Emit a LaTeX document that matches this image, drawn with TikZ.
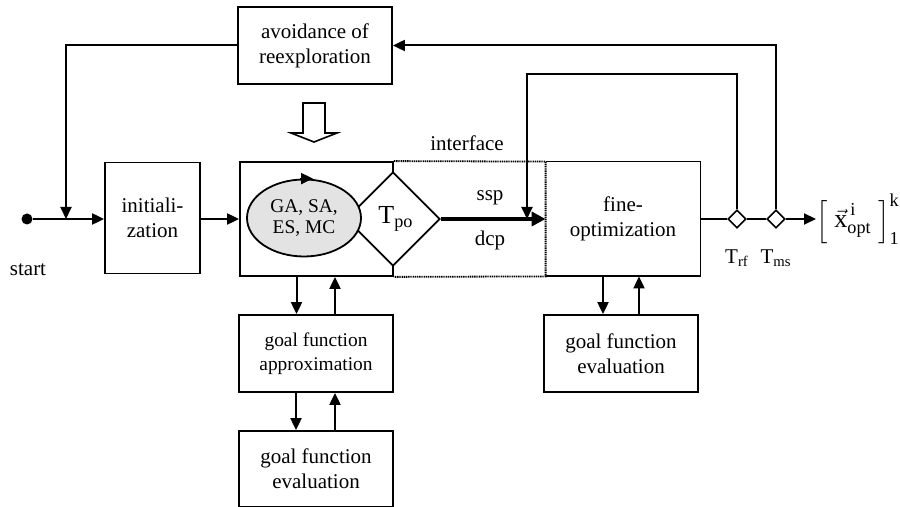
\documentclass[tikz,border=0pt]{standalone}
\usepackage{fontspec}
\setmainfont{Liberation Serif}
\usepackage{amsmath}
\usetikzlibrary{arrows.meta,positioning,shapes.geometric}
\tikzset{
  block/.style={draw,line width=0.9pt,align=center,inner sep=0pt,
    font=\fontsize{10.5}{12.5}\selectfont},
  flow/.style={-{Triangle[length=6pt,width=5.5pt]},line width=1pt},
  plain/.style={line width=1pt},
  switch/.style={diamond,draw,fill=white,line width=0.8pt,aspect=1,
    minimum width=9pt,minimum height=9pt,inner sep=0pt},
  lbl/.style={font=\fontsize{10.5}{12.5}\selectfont,inner sep=0pt},
  dots/.style={line width=0.9pt,dash pattern=on 0.7pt off 0.4pt}
}

\begin{document}
\begin{tikzpicture}[x=0.5pt,y=-0.5pt]
  \useasboundingbox (0,0) rectangle (900,507);
  % blocks
  \node[block,minimum width=77pt,minimum height=38.5pt] (avoid) at (315,45.5) {avoidance of\\reexploration};
  \node[block,minimum width=47.5pt,minimum height=55.5pt] (init) at (152.5,218) {initiali-\\zation};
  \node[block,minimum width=76.5pt,minimum height=57pt] (search) at (316.5,219) {};
  \node[lbl,minimum width=77pt,minimum height=57pt,align=center] (fine) at (623,219) {fine-\\optimization};
  \draw[line width=0.9pt] (fine.south west) -- (fine.south east) -- (fine.north east) -- (fine.north west);
  \draw[dots] (search.north east) -- (fine.north west) -- (fine.south west) -- (search.south east);
  \node[block,minimum width=77pt,minimum height=38.5pt,font=\fontsize{9.7}{12}\selectfont] (approx) at (316,353.5) {goal function\\approximation};
  \node[block,minimum width=77pt,minimum height=38pt] (evall) at (316,469) {goal function\\evaluation};
  \node[block,minimum width=77pt,minimum height=38.5pt] (evalr) at (621,353.5) {goal function\\evaluation};
  % search core
  \node[diamond,draw,fill=white,line width=0.9pt,aspect=1,minimum width=47pt,minimum height=47pt,
    inner sep=0pt,font=\fontsize{13}{15}\selectfont] (tpo) at (393,219) {\hspace{3pt}T\textsubscript{po}};
  \node[ellipse,draw,fill=gray!22,line width=0.9pt,minimum width=57pt,minimum height=38.5pt,inner sep=0pt,
    align=center,font=\fontsize{9.7}{10.5}\selectfont] (algo) at (304,218) {GA, SA,\\ES, MC};
  \draw[flow] ([xshift=-2pt]algo.north) -- ([xshift=4.5pt]algo.north);
  % interface
  \node[lbl] (iflbl) at (467,143) {interface};
  \node[lbl] (ssp) at (490,198) {ssp};
  \node[lbl] (dcp) at (490,240) {dcp};
  \draw[-{Triangle[length=7pt,width=7pt]},line width=1.8pt] (tpo.east) -- (tpo.east -| fine.west);
  % output side
  \node[switch] (trf) at (737,219) {};
  \node[switch] (tms) at (776,219) {};
  \node[lbl] (trflbl) at (737,258) {T\textsubscript{rf}};
  \node[lbl] (tmslbl) at (776,258) {T\textsubscript{ms}};
  \node[lbl,anchor=west,font=\fontsize{13}{15}\selectfont] (res) at (816,219)
    {$\Big[\;\vec{\text{x}}^{\,\text{i}}_{\text{opt}}\;\Big]^{\text{k}}_{\text{1}}$};
  \draw[plain] (fine.east) -- (trf) -- (tms);
  \draw[flow] (tms) -- (res);
  % feedback loops
  \coordinate (join) at (527,219);
  \coordinate (merge) at (66,219);
  \draw[flow] (trf.north) -- ++(0,-135) -| (join);
  \draw[flow] (tms.north) |- (avoid.east);
  \draw[flow] (avoid.west) -| (merge);
  % start
  \node[circle,fill,inner sep=0pt,minimum size=5.5pt] (start) at (27,219) {};
  \node[lbl] (startlbl) at (28,270) {start};
  \draw[flow] (start) -- (start -| init.west);
  \draw[flow] (init.east |- search.west) -- (search.west);
  % hollow arrow
  \draw[line width=0.8pt,fill=white] (303,103) -- (325,103) -- (325,133) -- (337,133)
    -- (314,142) -- (291,133) -- (303,133) -- cycle;
  % goal function links
  \draw[flow] ([xshift=-10pt]search.south) -- ([xshift=-10pt]search.south |- approx.north);
  \draw[flow] ([xshift=9.5pt]approx.north) -- ([xshift=9.5pt]approx.north |- search.south);
  \draw[flow] ([xshift=-10pt]approx.south) -- ([xshift=-10pt]approx.south |- evall.north);
  \draw[flow] ([xshift=9.5pt]evall.north) -- ([xshift=9.5pt]evall.north |- approx.south);
  \draw[flow] ([xshift=-10pt]fine.south) -- ([xshift=-10pt]fine.south |- evalr.north);
  \draw[flow] ([xshift=9pt]evalr.north) -- ([xshift=9pt]evalr.north |- fine.south);
\end{tikzpicture}
\end{document}
